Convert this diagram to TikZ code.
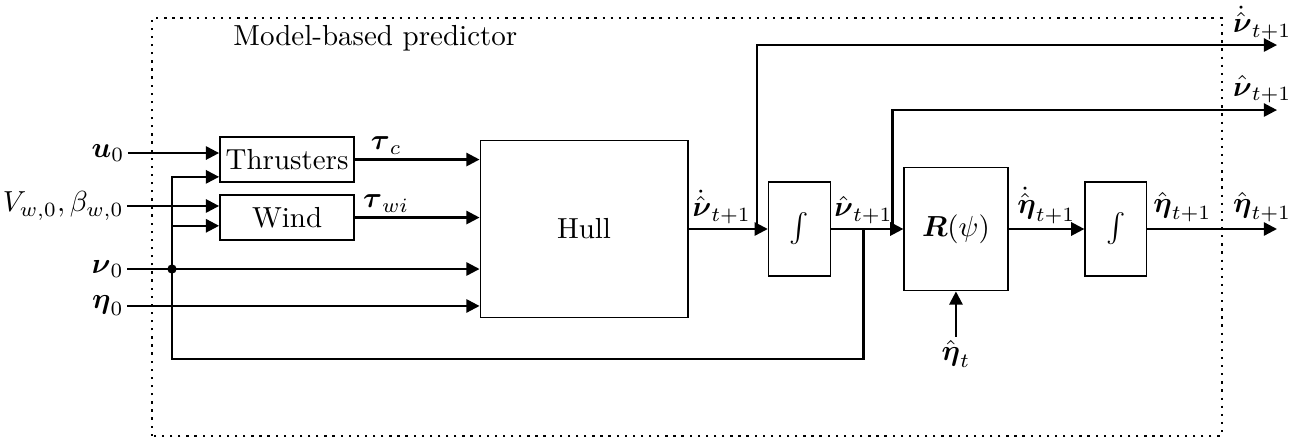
\documentclass[tikz,border=0pt]{standalone}
\usepackage{amsmath,amssymb}
\usepackage{tikz}
\usetikzlibrary{arrows.meta, positioning, calc}

\begin{document}
\begin{tikzpicture}[
    node distance=0.92cm,
    blk/.style={draw, thick, minimum height=0.545cm, minimum width=1.62cm, inner sep=1pt},
    sys/.style={draw, minimum width=#1},
    arr/.style={-{Triangle[length=1.6mm,width=1.6mm]}, thick},
    wire/.style={thick},
    lbl/.style={inner sep=1pt}
  ]
  \useasboundingbox (0,0) rectangle (15.88,5.37);
  \draw[dotted, thick] (1.84,0.085) rectangle (14.81,5.15);
  \node (title) at (4.55,4.91) {Model-based predictor};

  % blocks
  \node[blk] (thr) at (3.48,3.436) {Thrusters};
  \node[blk, below=0.13cm of thr] (wind) {Wind};
  \node[sys=2.52cm, minimum height=2.15cm] (hull) at (7.08,2.594) {Hull};
  \node[sys=0.75cm, minimum height=1.14cm, right=0.96cm of hull] (intA) {$\int$};
  \node[sys=1.26cm, minimum height=1.5cm, right=0.88cm of intA] (rot) {$\boldsymbol{R}(\psi)$};
  \node[sys=0.75cm, minimum height=1.14cm, right=0.92cm of rot] (intB) {$\int$};
  \node[lbl, below=0.55cm of rot] (etat) {$\hat{\boldsymbol{\eta}}_t$};

  % inputs
  \node[lbl, anchor=east] (u0)   at (1.55,3.515) {$\boldsymbol{u}_0$};
  \node[lbl, anchor=east] (vw)   at (1.54,2.873) {$V_{w,0},\beta_{w,0}$};
  \node[lbl, anchor=east] (nu0)  at (1.54,2.109) {$\boldsymbol{\nu}_0$};
  \node[lbl, anchor=east] (eta0) at (1.54,1.661) {$\boldsymbol{\eta}_0$};

  \coordinate (jn) at ($(nu0.east)+(0.545,0)$);
  \coordinate (brA) at ($(hull.east)!0.86!(intA.west)$);
  \coordinate (brB) at ($(intA.east)!0.85!(rot.west)$);
  \coordinate (fb)  at ($(intA.east)!0.45!(rot.west)$);
  \coordinate (outA) at (15.48,4.824);
  \coordinate (outB) at (15.48,4.036);
  \coordinate (outC) at (outA |- intB);

  \draw[arr] (u0) -- (u0 -| thr.west);
  \draw[arr] (vw) -- (vw -| wind.west);
  \draw[arr] (nu0) -- (nu0 -| hull.west);
  \draw[arr] (eta0) -- (eta0 -| hull.west);
  \fill (jn) circle (1.6pt);
  \draw[arr] (jn) |- ($(thr.west)+(0,-0.21)$);
  \draw[arr] (jn) |- ($(wind.west)+(0,-0.1)$);
  \draw[wire] (jn) -- ++(0,-1.09) -| (fb);

  \draw[arr] (thr) -- node[above, inner sep=1.5pt, near start] {$\boldsymbol{\tau}_c$} (thr -| hull.west);
  \draw[arr] (wind) -- node[above, inner sep=1.5pt, near start] {$\boldsymbol{\tau}_{wi}$} (wind -| hull.west);

  % outputs
  \draw[arr] (hull) -- node[above, inner sep=1.5pt, pos=0.42] {$\dot{\hat{\boldsymbol{\nu}}}_{t+1}$} (intA);
  \draw[arr] (brA) |- (outA) node[above, inner sep=1.5pt, xshift=-0.18cm] {$\dot{\hat{\boldsymbol{\nu}}}_{t+1}$};
  \draw[arr] (intA) -- node[above, inner sep=1.5pt, pos=0.45] {$\hat{\boldsymbol{\nu}}_{t+1}$} (rot);
  \draw[arr] (brB) |- (outB) node[above, inner sep=2pt, xshift=-0.18cm] {$\hat{\boldsymbol{\nu}}_{t+1}$};
  \draw[arr] (rot) -- node[above, inner sep=1.5pt] {$\dot{\hat{\boldsymbol{\eta}}}_{t+1}$} (intB);
  \draw[arr] (intB) -- node[above, inner sep=2pt, pos=0.27] {$\hat{\boldsymbol{\eta}}_{t+1}$} (outC)
    node[above, inner sep=2pt, xshift=-0.18cm] {$\hat{\boldsymbol{\eta}}_{t+1}$};
  \draw[arr] (etat) -- (rot);
\end{tikzpicture}
\end{document}
